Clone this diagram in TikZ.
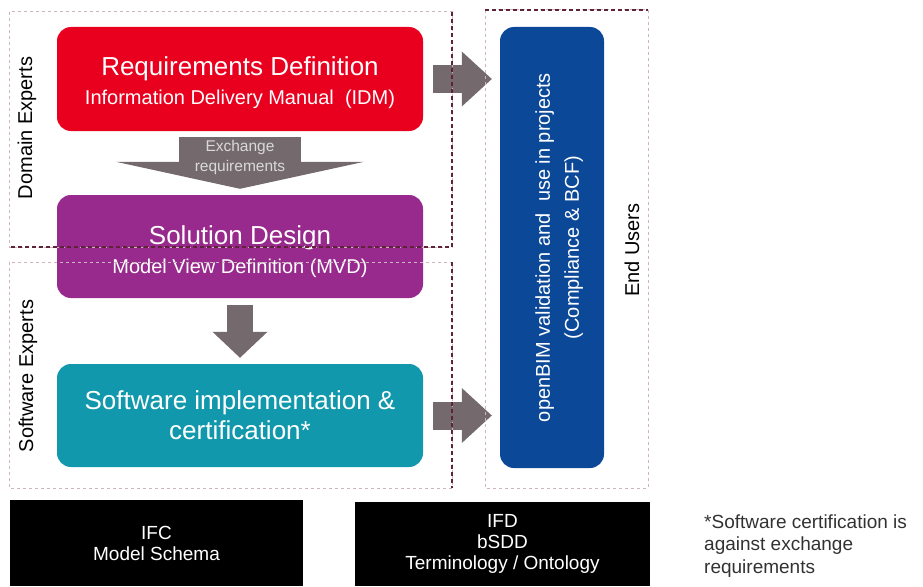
\documentclass[tikz,border=0pt]{standalone}
\usepackage{fontspec}
\setmainfont{Liberation Sans}
\usetikzlibrary{positioning,arrows.meta}
\newcommand{\fsz}[2]{\fontsize{#1}{#2}\selectfont}
\newcommand{\toppad}{\rule{0pt}{27pt}}
\definecolor{reqred}{RGB}{232,0,30}
\definecolor{solpurple}{RGB}{152,42,142}
\definecolor{swteal}{RGB}{18,152,172}
\definecolor{bimblue}{RGB}{12,72,152}
\definecolor{arrowgrey}{RGB}{116,106,109}
\definecolor{framelight}{RGB}{205,180,190}
\definecolor{framedark}{RGB}{95,35,55}
\definecolor{notegrey}{RGB}{50,50,50}

\begin{document}
\begin{tikzpicture}[x=1pt,y=-1pt,
  stagebox/.style={rounded corners=14pt, inner sep=0pt, minimum width=366pt, minimum height=104pt,
    text=white, align=center, font=\fsz{20}{29}},
  blockarrow/.style={draw=arrowgrey, line width=28pt},
  framelt/.style={draw=framelight, line width=1pt, dash pattern=on 3pt off 3pt},
  framedk/.style={draw=framedark, line width=1.3pt, dash pattern=on 4pt off 3pt},
  sidelabel/.style={rotate=90, inner sep=0pt, font=\fsz{20}{24}},
  basebox/.style={fill=black, text=white, inner sep=0pt, align=center, font=\fsz{19}{21}}]
\useasboundingbox (0,0) rectangle (923,586);

% the three stages
\node[stagebox, fill=reqred] (reqdef) at (240,79)
  {{\fsz{26}{29}\toppad Requirements Definition}\\Information Delivery Manual~ (IDM)};
\node[stagebox, fill=solpurple, minimum height=103pt] (soldesign) at (240,246.5)
  {{\fsz{26}{29}\rule{0pt}{30pt}Solution Design}\\Model View Definition (MVD)};
\node[stagebox, fill=swteal, minimum height=103pt, font=\fsz{26}{30}] (swimpl) at (240,415.5)
  {Software implementation \&\\certification*};

% end use
\node[stagebox, fill=bimblue, rotate=90, minimum width=441pt, minimum height=104pt, font=\fsz{20}{29}] (openbim) at (552,247.5)
  {\rule{0pt}{29pt}openBIM validation and~ use in projects\\(Compliance \& BCF)};

% block arrows
\draw[blockarrow, line width=122pt, -{Triangle[width=248pt,length=27pt,line width=0pt]},
  shorten <=6pt, shorten >=6pt] (reqdef.south) -- (soldesign.north)
  node[pos=0.41, text=black!15, align=center, inner sep=0pt, font=\fsz{15.5}{20}] (xreq) {Exchange\\requirements};
\draw[blockarrow, line width=26pt, -{Triangle[width=55pt,length=26pt,line width=0pt]},
  shorten <=6.5pt, shorten >=6pt] (soldesign.south) -- (swimpl.north);
\draw[blockarrow, -{Triangle[width=55pt,length=30pt,line width=0pt]},
  shorten <=10pt, shorten >=8pt] (reqdef.east) -- (reqdef.east -| openbim.north);
\draw[blockarrow, -{Triangle[width=55pt,length=30pt,line width=0pt]},
  shorten <=10pt, shorten >=8pt] (swimpl.east) -- (swimpl.east -| openbim.north);

% groups
\draw[framelt] (9,12) rectangle (452,247);
\draw[framedk] (452,12) -- (452,247) -- (9,247);
\draw[framelt] (9,262) rectangle (452,488);
\draw[framedk] (452,262) -- (452,488);
\draw[framelt] (485,10) rectangle (648,488);
\draw[framedk] (485,10) -- (648,10);
\node[sidelabel] (domainlbl) at (27,128) {Domain Experts};
\node[sidelabel] (swlbl) at (28,376) {Software Experts};
\node[sidelabel] (enduserlbl) at (632,250) {End Users};

% foundations
\node[basebox, minimum width=293pt, minimum height=86pt] (ifc) at (156.5,543) {IFC\\Model Schema};
\node[basebox, minimum width=295pt, minimum height=84pt] (ifd) at (502.5,544) {IFD\\bSDD\\Terminology / Ontology};
\node[anchor=west, align=left, inner sep=0pt, text=notegrey, font=\fsz{19}{22.5}] (note) at (704,546)
  {*Software certification is\\against exchange\\requirements};
\end{tikzpicture}
\end{document}
